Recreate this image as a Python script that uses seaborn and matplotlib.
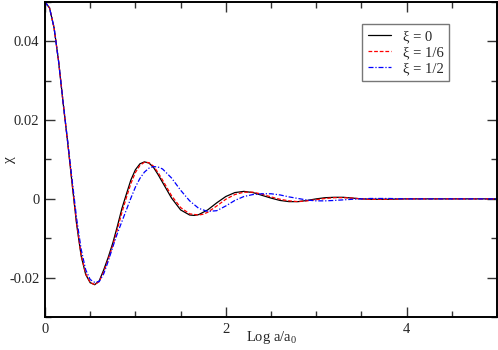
import numpy as np
import pandas as pd
import matplotlib
matplotlib.use("Agg")
import matplotlib.pyplot as plt
import seaborn as sns

# values
x_black = [0, 0.05, 0.1, 0.15, 0.2, 0.25, 0.3, 0.35, 0.4, 0.45, 0.5, 0.55, 0.6, 0.65, 0.7, 0.75,
           0.8, 0.85, 0.9, 0.95, 1.0, 1.05, 1.1, 1.15, 1.2, 1.25, 1.3, 1.4, 1.5, 1.6, 1.65, 1.7,
           1.8, 1.9, 2.0, 2.1, 2.2, 2.3, 2.4, 2.5, 2.6, 2.7, 2.8, 2.9, 3.0, 3.1, 3.2, 3.3, 3.4,
           3.5, 3.6, 3.8, 4.0, 5.0]
y_black = [0.0500, 0.0485, 0.0435, 0.0350, 0.0245, 0.0145, 0.0038, -0.0065, -0.0145, -0.0192,
           -0.0213, -0.0218, -0.0208, -0.0180, -0.0148, -0.0112, -0.0070, -0.0025, 0.0012, 0.0048,
           0.0074, 0.0089, 0.0094, 0.0091, 0.0080, 0.0062, 0.0042, 0.0002, -0.0028, -0.0041,
           -0.0042, -0.0040, -0.0028, -0.0010, 0.0006, 0.0016, 0.0019, 0.0016, 0.0009, 0.0002,
           -0.0004, -0.0007, -0.0007, -0.0004, 0.0000, 0.0003, 0.0004, 0.0004, 0.0002, 0.0000,
           -0.0001, -0.0001, 0.0000, 0.0000]

x_red = [0, 0.05, 0.1, 0.15, 0.2, 0.25, 0.3, 0.35, 0.4, 0.45, 0.5, 0.55, 0.6, 0.65, 0.7, 0.75,
         0.8, 0.85, 0.9, 0.95, 1.0, 1.05, 1.1, 1.15, 1.2, 1.25, 1.3, 1.4, 1.5, 1.6, 1.7, 1.75,
         1.8, 1.9, 2.0, 2.1, 2.2, 2.3, 2.4, 2.5, 2.6, 2.7, 2.8, 2.9, 3.0, 3.1, 3.2, 3.3, 3.4,
         3.5, 3.6, 3.8, 4.0, 5.0]
y_red = [0.0500, 0.0485, 0.0435, 0.0350, 0.0245, 0.0146, 0.0040, -0.0062, -0.0142, -0.0190,
         -0.0212, -0.0218, -0.0210, -0.0185, -0.0153, -0.0118, -0.0078, -0.0035, 0.0003, 0.0039,
         0.0067, 0.0085, 0.0093, 0.0092, 0.0083, 0.0067, 0.0048, 0.0008, -0.0022, -0.0038,
         -0.0041, -0.0039, -0.0034, -0.0018, -0.0001, 0.0011, 0.0017, 0.0017, 0.0012, 0.0005,
         -0.0001, -0.0005, -0.0007, -0.0005, -0.0002, 0.0001, 0.0003, 0.0003, 0.0002, 0.0000,
         -0.0001, -0.0001, 0.0000, 0.0000]

x_blue = [0, 0.05, 0.1, 0.15, 0.2, 0.25, 0.3, 0.35, 0.4, 0.45, 0.5, 0.55, 0.6, 0.65, 0.7, 0.75,
          0.8, 0.85, 0.9, 0.95, 1.0, 1.05, 1.1, 1.15, 1.2, 1.25, 1.3, 1.4, 1.5, 1.6, 1.7, 1.8,
          1.9, 2.0, 2.1, 2.2, 2.3, 2.4, 2.5, 2.6, 2.7, 2.8, 2.9, 3.0, 3.1, 3.2, 3.4, 3.6, 3.8,
          4.0, 5.0]
y_blue = [0.0500, 0.0485, 0.0435, 0.0350, 0.0246, 0.0148, 0.0048, -0.0050, -0.0128, -0.0180,
          -0.0205, -0.0212, -0.0210, -0.0190, -0.0158, -0.0122, -0.0088, -0.0058, -0.0028, 0.0002,
          0.0030, 0.0052, 0.0068, 0.0078, 0.0082, 0.0081, 0.0076, 0.0053, 0.0022, -0.0005,
          -0.0024, -0.0032, -0.0030, -0.0018, -0.0004, 0.0006, 0.0011, 0.0013, 0.0013, 0.0010,
          0.0005, 0.0001, -0.0003, -0.0005, -0.0005, -0.0004, -0.0001, 0.0001, 0.0001, 0.0000,
          0.0000]

labels = ["ξ = 0", "ξ = 1/6", "ξ = 1/2"]
x_ticks = [0, 2, 4]
x_tick_labels = ["0", "2", "4"]
y_ticks = [-0.02, 0, 0.02, 0.04]
y_tick_labels = ["-0.02", "0", "0.02", "0.04"]

sns.set_style("ticks")
plt.rcParams["font.family"] = ["Liberation Serif", "DejaVu Serif"]
plt.rcParams["axes.unicode_minus"] = False

fig = plt.figure(figsize=(4.98, 3.5), dpi=100)
ax = fig.add_axes([45 / 498, 33 / 350, 452 / 498, 315 / 350])

series = [(x_black, y_black, "black", "-"),
          (x_red, y_red, "red", (0, (3, 1.5))),
          (x_blue, y_blue, "blue", (0, (4, 1.5, 1, 1.5)))]
for (xs, ys, col, ls), lab in zip(series, labels):
    df = pd.DataFrame({"x": xs, "y": ys})
    sns.lineplot(data=df, x="x", y="y", ax=ax, color=col, linestyle=ls,
                 linewidth=0.9, label=lab)

ax.set_xlim(0, 5)
ax.set_ylim(-0.03, 0.05)
ax.set_xticks(x_ticks)
ax.set_xticklabels(x_tick_labels)
ax.set_yticks(y_ticks)
ax.set_yticklabels(y_tick_labels)
ax.set_xticks(np.arange(0, 5.01, 0.5), minor=True)
ax.set_yticks(np.arange(-0.03, 0.0501, 0.01), minor=True)
ax.tick_params(which="both", direction="in", top=True, right=True,
               labelsize=10.5, width=1, color="#333333")
ax.tick_params(which="major", length=7, pad=4)
ax.tick_params(which="minor", length=4)
for s in ax.spines.values():
    s.set_linewidth(1.4)
    s.set_color("black")

# axis labels placed where the reference has them
ax.set_xlabel("Log a/a$_\\mathregular{0}$", fontsize=10.5)
ax.xaxis.set_label_coords((272 - 45) / 452, -(337 - 317) / 315)
ax.xaxis.label.set_va("center")
ax.set_ylabel("χ", fontsize=11, rotation=90)
ax.yaxis.set_label_coords(-(45 - 9) / 452, (317 - 160) / 315)
ax.yaxis.label.set_va("center")

leg = ax.legend(loc="upper left", bbox_to_anchor=((362 - 45) / 452, 1 - 22 / 315),
                fontsize=10.5, frameon=True, fancybox=False, edgecolor="#555555",
                handlelength=1.6, handletextpad=0.8, borderpad=0.4, labelspacing=0.2,
                borderaxespad=0)
leg.get_frame().set_linewidth(1.0)

fig.savefig("out.png", dpi=100)
